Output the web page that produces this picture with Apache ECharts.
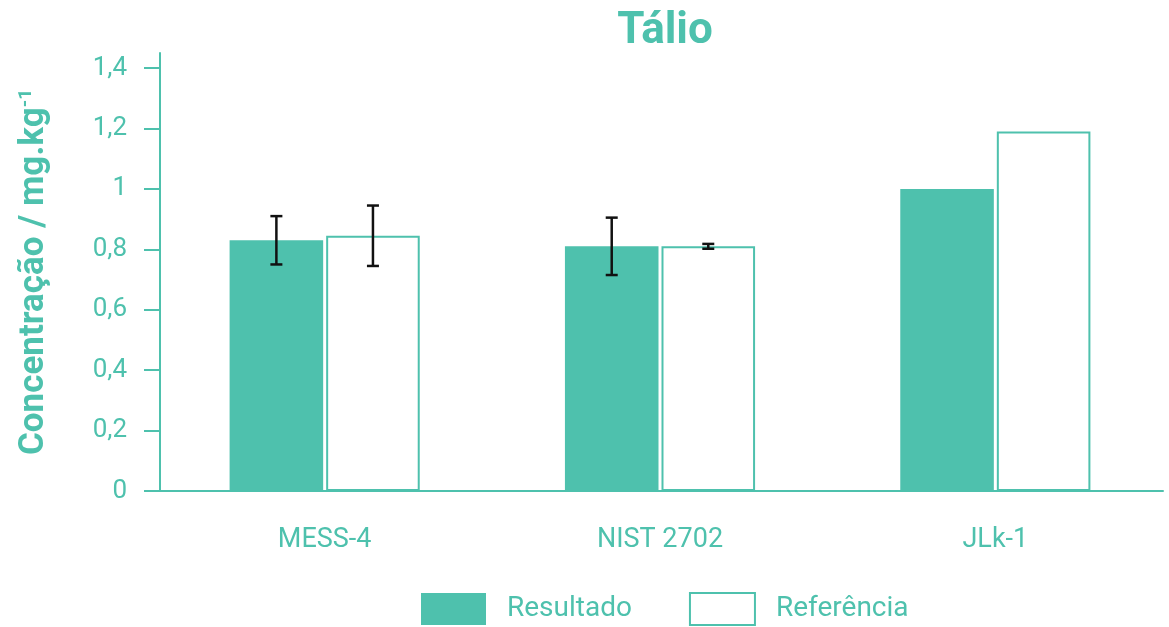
<!DOCTYPE html>
<html>
<head>
<meta charset="utf-8">
<script src="https://cdn.jsdelivr.net/npm/echarts@6/dist/echarts.min.js"></script>
<style>
  html, body { margin: 0; padding: 0; background: #ffffff; }
  #chart { width: 1169px; height: 627px; }
</style>
</head>
<body>
<div id="chart"></div>
<script>
// Tálio concentration in certified reference materials
const categories = ['MESS-4', 'NIST 2702', 'JLk-1'];
const resultado = [0.83, 0.81, 1.0];
const resultadoErr = [0.08, 0.095, null];
const referencia = [0.845, 0.81, 1.19];
const referenciaErr = [0.10, 0.008, null];
const yTicks = [0, 0.2, 0.4, 0.6, 0.8, 1.0, 1.2, 1.4];

const TEAL = '#4ec1ad';
const FONT = 'Roboto';
const CAT_GAP = 0.433;  // barCategoryGap as a fraction
const BAR_GAP = 0.032;  // barGap as a fraction of bar width

function errorData(values, errs) {
  const out = [];
  values.forEach((v, i) => {
    if (errs[i] != null) out.push([i, v - errs[i], v + errs[i]]);
  });
  return out;
}

// side: -1 for the first bar of the group, +1 for the second
function errorRenderer(side) {
  return function (params, api) {
    const idx = api.value(0);
    const lo = api.coord([idx, api.value(1)]);
    const hi = api.coord([idx, api.value(2)]);
    const band = api.size([1, 0])[0];
    const barW = band * (1 - CAT_GAP) / (2 + BAR_GAP);
    const x = lo[0] + side * barW * (1 + BAR_GAP) / 2;
    const cap = 6;
    const style = { stroke: '#111111', lineWidth: 2.5 };
    return {
      type: 'group',
      children: [
        { type: 'line', shape: { x1: x, y1: hi[1], x2: x, y2: lo[1] }, style },
        { type: 'line', shape: { x1: x - cap, y1: hi[1], x2: x + cap, y2: hi[1] }, style },
        { type: 'line', shape: { x1: x - cap, y1: lo[1], x2: x + cap, y2: lo[1] }, style }
      ]
    };
  };
}

const chart = echarts.init(document.getElementById('chart'), null, { renderer: 'canvas' });

chart.setOption({
  backgroundColor: '#ffffff',
  animation: false,
  title: {
    text: 'Tálio',
    left: 660,
    top: 5,
    textAlign: 'center',
    textStyle: { color: TEAL, fontFamily: FONT, fontWeight: 'bold', fontSize: 44 }
  },
  legend: {
    data: ['Resultado', 'Referência'],
    left: 421,
    top: 592,
    padding: 0,
    icon: 'rect',
    itemWidth: 65,
    itemHeight: 32,
    itemGap: 57,
    textStyle: { color: TEAL, fontFamily: FONT, fontSize: 28, padding: [0, 0, 0, 16] }
  },
  grid: { left: 157, right: 6, top: 53, bottom: 136, containLabel: false },
  xAxis: {
    type: 'category',
    data: categories,
    axisLine: { show: true, lineStyle: { color: TEAL, width: 2 } },
    axisTick: { show: false },
    axisLabel: { color: TEAL, fontFamily: FONT, fontSize: 27, margin: 36 }
  },
  yAxis: {
    type: 'value',
    min: 0,
    max: 1.45,
    offset: -3,
    name: '{a|Concentração / mg.kg}{s|-1}',
    nameLocation: 'middle',
    nameGap: 108,
    nameRotate: 90,
    nameTextStyle: {
      rich: {
        a: { color: TEAL, fontFamily: FONT, fontWeight: 'bold', fontSize: 35, verticalAlign: 'bottom' },
        s: { color: TEAL, fontFamily: FONT, fontWeight: 'bold', fontSize: 19, verticalAlign: 'top', padding: [0, 0, 16, 0] }
      }
    },
    splitLine: { show: false },
    axisLine: { show: true, lineStyle: { color: TEAL, width: 2 } },
    axisTick: {
      show: true, inside: false, length: 16,
      lineStyle: { color: TEAL, width: 2 },
      customValues: yTicks
    },
    axisLabel: {
      color: TEAL, fontFamily: FONT, fontSize: 26, margin: 33,
      customValues: yTicks,
      formatter: v => String(Math.round(v * 10) / 10).replace('.', ',')
    }
  },
  series: [
    {
      name: 'Resultado',
      type: 'bar',
      data: resultado,
      barCategoryGap: (CAT_GAP * 100) + '%',
      barGap: (BAR_GAP * 100) + '%',
      itemStyle: { color: TEAL }
    },
    {
      name: 'Referência',
      type: 'bar',
      data: referencia,
      barCategoryGap: (CAT_GAP * 100) + '%',
      barGap: (BAR_GAP * 100) + '%',
      itemStyle: { color: '#ffffff', borderColor: TEAL, borderWidth: 2 }
    },
    {
      type: 'custom',
      name: 'erroResultado',
      renderItem: errorRenderer(-1),
      data: errorData(resultado, resultadoErr),
      encode: { x: 0, y: [1, 2] },
      z: 10,
      silent: true
    },
    {
      type: 'custom',
      name: 'erroReferencia',
      renderItem: errorRenderer(1),
      data: errorData(referencia, referenciaErr),
      encode: { x: 0, y: [1, 2] },
      z: 10,
      silent: true
    }
  ]
});
</script>
</body>
</html>
